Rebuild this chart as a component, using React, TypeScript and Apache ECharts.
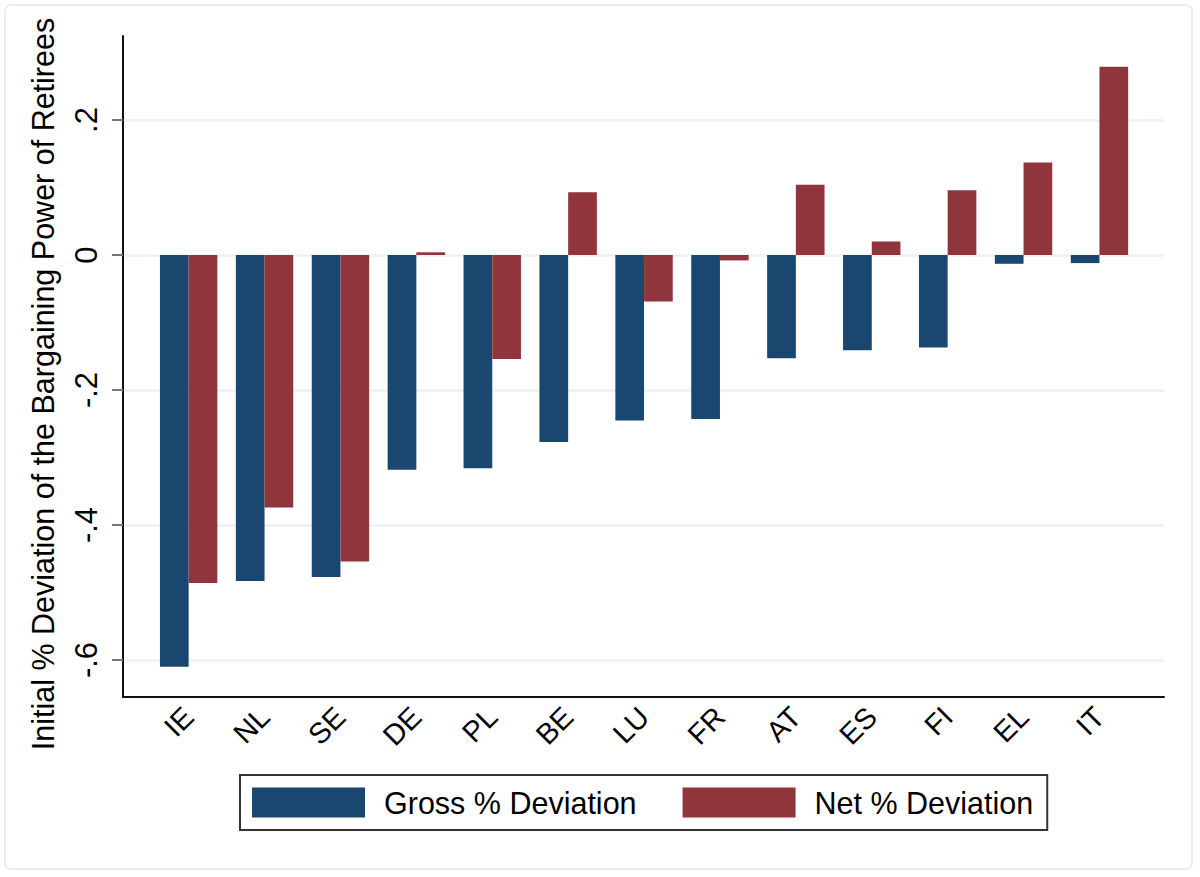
import React, { useRef, useEffect } from 'react';
import * as echarts from 'echarts';

const countries = ['IE', 'NL', 'SE', 'DE', 'PL', 'BE', 'LU', 'FR', 'AT', 'ES', 'FI', 'EL', 'IT'];
const grossDeviation = [-0.61, -0.483, -0.477, -0.318, -0.316, -0.277, -0.245, -0.243, -0.153, -0.141, -0.137, -0.013, -0.012];
const netDeviation = [-0.486, -0.374, -0.454, 0.004, -0.154, 0.093, -0.069, -0.008, 0.104, 0.02, 0.096, 0.137, 0.279];
const yTicks = [-0.6, -0.4, -0.2, 0, 0.2];

const NAVY = '#1a476f';
const MAROON = '#90353b';
const FONT = '"Liberation Sans", Arial, sans-serif';

// Stata style tick labels: .2, 0, -.2 ...
const stataLabel = (v: number) => {
  if (Math.abs(v) < 1e-9) return '0';
  const s = Math.abs(v).toFixed(1).replace(/^0/, '');
  return (v < 0 ? '-' : '') + s;
};

const App: React.FC = () => {
  const chartRef = useRef<HTMLDivElement>(null);

  useEffect(() => {
    let chart: echarts.ECharts | null = null;
    if (chartRef.current) {
      chart = echarts.init(chartRef.current, null, { renderer: 'svg' });

      // plot frame: x 123..1164, y 36..697 ; zero at y=255, 675px per unit
      const pxPerUnit = 675;
      const yMax = (255 - 36) / pxPerUnit;
      const yMin = -(697 - 255) / pxPerUnit;

      const option: echarts.EChartsOption = {
        animation: false,
        backgroundColor: '#ffffff',
        textStyle: { fontFamily: FONT },
        grid: [
          { left: 123, top: 36, width: 1041, height: 661 },
          { left: 150.7, top: 36, width: 986.7, height: 661 },
          { left: 123, top: 120, width: 1041, height: 540 },
        ],
        xAxis: [
          {
            gridIndex: 0,
            type: 'value',
            min: 0,
            max: 1,
            axisLine: { show: true, onZero: false, lineStyle: { color: '#111', width: 2 } },
            axisTick: { show: false },
            axisLabel: { show: false },
            splitLine: { show: false },
          },
          {
            gridIndex: 1,
            type: 'category',
            data: countries,
            axisLine: { show: false },
            axisTick: { show: false },
            axisLabel: {
              rotate: 45,
              margin: 15,
              fontSize: 29,
              color: '#000',
              fontFamily: FONT,
              interval: 0,
            },
          },
          { gridIndex: 2, type: 'value', show: false, min: 0, max: 1 },
        ],
        yAxis: [
          {
            gridIndex: 0,
            type: 'value',
            min: yMin,
            max: yMax,
            axisLine: { show: true, onZero: false, lineStyle: { color: '#111', width: 2 } },
            axisTick: { show: false },
            axisLabel: { show: false },
            splitLine: { show: false },
          },
          {
            gridIndex: 1,
            type: 'value',
            min: yMin,
            max: yMax,
            show: false,
            splitLine: { show: false },
          },
          {
            gridIndex: 2,
            type: 'value',
            min: yTicks[0],
            max: yTicks[yTicks.length - 1],
            interval: 0.2,
            axisLine: { show: false },
            axisTick: { show: true, length: 11, lineStyle: { color: '#777', width: 2 } },
            axisLabel: {
              rotate: 90,
              margin: 21,
              fontSize: 31,
              color: '#000',
              fontFamily: FONT,
              formatter: (v: number) => stataLabel(v),
            },
            splitLine: { show: true, lineStyle: { color: '#eaf2f3', width: 2.5 } },
          },
        ],
        legend: {
          left: 240,
          top: 775,
          orient: 'horizontal',
          icon: 'rect',
          itemWidth: 113,
          itemHeight: 30,
          itemGap: 46,
          padding: [12, 14, 12, 12],
          borderColor: '#333',
          borderWidth: 2,
          borderRadius: 0,
          textStyle: { fontSize: 30.5, color: '#000', fontFamily: FONT, padding: [0, 0, 0, 14] },
          data: ['Gross % Deviation', 'Net % Deviation'],
        },
        series: [
          {
            name: 'Gross % Deviation',
            type: 'bar',
            xAxisIndex: 1,
            yAxisIndex: 1,
            data: grossDeviation,
            barWidth: 28.7,
            barGap: '0%',
            itemStyle: { color: NAVY },
          },
          {
            name: 'Net % Deviation',
            type: 'bar',
            xAxisIndex: 1,
            yAxisIndex: 1,
            data: netDeviation,
            barWidth: 28.7,
            barGap: '0%',
            itemStyle: { color: MAROON },
          },
        ],
        graphic: [
          {
            type: 'rect',
            z: -10,
            shape: { x: 5, y: 5, width: 1187, height: 864, r: 6 },
            style: { fill: 'none', stroke: '#e8eef1', lineWidth: 2 },
          },
          {
            type: 'text',
            x: 43,
            y: 384,
            rotation: Math.PI / 2,
            style: {
              text: 'Initial % Deviation of the Bargaining Power of Retirees',
              fontSize: 30.5,
              fontFamily: FONT,
              fill: '#000',
              align: 'center',
              verticalAlign: 'middle',
            },
          },
        ],
      };
      chart.setOption(option);
    }
    return () => {
      if (chart) chart.dispose();
    };
  }, []);

  return (
    <div
      ref={chartRef}
      style={{ position: 'absolute', left: 0, top: 0, width: '1200px', height: '877px' }}
    />
  );
};

export default App;
